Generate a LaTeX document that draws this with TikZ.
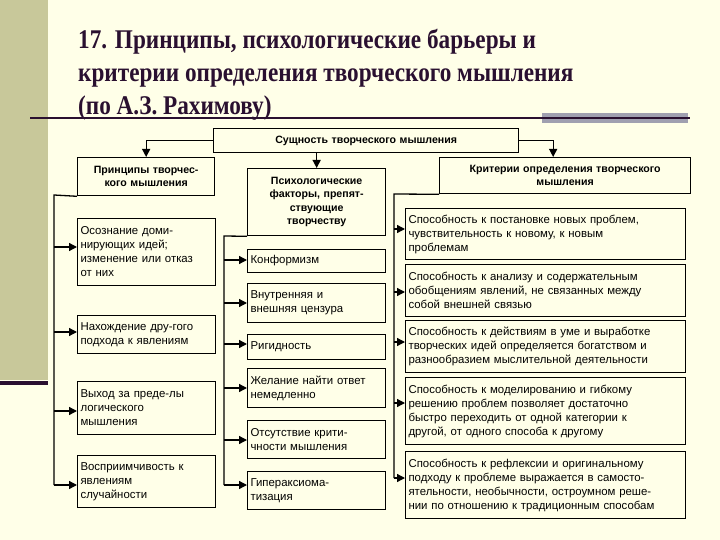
\documentclass[tikz,border=0pt]{standalone}
\usepackage{fontspec}
\setmainfont{Liberation Sans}
\newfontfamily\titlefont{Liberation Serif}
\usetikzlibrary{arrows.meta}
\definecolor{bg}{HTML}{FFFFE8}
\definecolor{olive}{HTML}{C8C89A}
\definecolor{ttl}{HTML}{2A1030}
\definecolor{greybar}{HTML}{A0A0B0}
\tikzset{
 x=1pt,y=-1pt,
 box/.style={draw,line width=1.1pt,anchor=north west,inner sep=3pt,align=left,font=\fontsize{11.4}{14}\selectfont},
 hbox/.style={box,line width=1.3pt,align=center,font=\bfseries\fontsize{10.6}{13.5}\selectfont},
 arr/.style={line width=1.3pt,-{Triangle[length=8pt,width=8pt]}},
 bus/.style={line width=1.3pt}
}
\begin{document}
\begin{tikzpicture}
\fill[bg] (0,0) rectangle (720,540);
\useasboundingbox (0,0) rectangle (720,540);
\fill[olive] (0,0) rectangle (48,380);
\fill[ttl] (0,381) rectangle (48,385);
\fill[greybar] (542,113) rectangle (688,123);
\draw[ttl,line width=1.3pt] (30,118) -- (690,118);
\node[anchor=north west,text=ttl,align=left,font=\titlefont\bfseries\fontsize{27}{33}\selectfont,inner sep=0pt] (title) at (78,29)
 {\scalebox{0.86}[1]{17. Принципы, психологические барьеры и}\\\scalebox{0.86}[1]{критерии определения творческого мышления}\\\scalebox{0.86}[1]{(по А.З. Рахимову)}};
% top
\node[hbox,minimum width=305,minimum height=24,text width=299] (top) at (213,128) {Сущность творческого мышления};
% headers
\node[hbox,minimum width=135,minimum height=38,text width=131] (lh) at (77,157) {Принципы творчес-\\кого мышления};
\node[hbox,minimum width=136,minimum height=67,text width=132] (mh) at (247,168) {Психологические\\факторы, препят-\\ствующие\\творчеству};
\node[hbox,minimum width=249,minimum height=36,text width=245] (rh) at (439,157) {Критерии определения творческого\\мышления};
% left boxes
\node[box,minimum width=136,minimum height=67,text width=132] (l1) at (77,218) {Осознание доми-\\нирующих идей;\\изменение или отказ\\от них};
\node[box,minimum width=136,minimum height=38,text width=132] (l2) at (77,315) {Нахождение дру-гого\\подхода к явлениям};
\node[box,minimum width=136,minimum height=53,text width=132] (l3) at (77,381) {Выход за преде-лы\\логического\\мышления};
\node[box,minimum width=136,minimum height=52,text width=132] (l4) at (77,455) {Восприимчивость к\\явлениям\\случайности};
% middle boxes
\node[box,minimum width=136,minimum height=23,text width=132] (m1) at (247,249) {Конформизм};
\node[box,minimum width=136,minimum height=39,text width=132] (m2) at (247,283) {Внутренняя и\\внешняя цензура};
\node[box,minimum width=136,minimum height=25,text width=132] (m3) at (247,334) {Ригидность};
\node[box,minimum width=136,minimum height=39,text width=132] (m4) at (247,368) {Желание найти ответ\\немедленно};
\node[box,minimum width=136,minimum height=38,text width=132] (m5) at (247,420) {Отсутствие крити-\\чности мышления};
\node[box,minimum width=136,minimum height=38,text width=132] (m6) at (247,471) {Гипераксиома-\\тизация};
% right boxes
\node[box,minimum width=278,minimum height=51,text width=274] (r1) at (405,208) {Способность к постановке новых проблем,\\чувствительность к новому, к новым\\проблемам};
\node[box,minimum width=278,minimum height=52,text width=274] (r2) at (405,264) {Способность к анализу и содержательным\\обобщениям явлений, не связанных между\\собой внешней связью};
\node[box,minimum width=278,minimum height=52,text width=274] (r3) at (405,320) {Способность к действиям в уме и выработке\\творческих идей определяется богатством и\\разнообразием мыслительной деятельности};
\node[box,minimum width=278,minimum height=67,text width=274] (r4) at (405,377) {Способность к моделированию и гибкому\\решению проблем позволяет достаточно\\быстро переходить от одной категории к\\другой, от одного способа к другому};
\node[box,minimum width=278,minimum height=67,text width=274] (r5) at (405,451) {Способность к рефлексии и оригинальному\\подходу к проблеме выражается в самосто-\\ятельности, необычности, остроумном реше-\\нии по отношению к традиционным способам};
% top connectors
\draw[arr] (top.west) -| (lh.north);
\draw[arr] (top.south -| mh.north) -- (mh.north);
\draw[arr] (top.east) -| ([xshift=-12pt]rh.north);
% buses
\coordinate (lb0) at (54,195); \coordinate (lb1) at (54,485);
\draw[bus] (lh.south west) -- (lb0) -- (lb1);
\coordinate (mb0) at (224,236); \coordinate (mb1) at (224,485);
\draw[bus] (mh.south west) -- (mb0) -- (mb1);
\coordinate (rb0) at (394,194); \coordinate (rb1) at (394,478);
\draw[bus] (rh.south west) -- (rb0) -- (rb1);
\foreach \n/\yy in {l1/247,l2/332,l3/411,l4/485} \draw[arr] (54,\yy) -- (\n.west |- 0,\yy);
\foreach \n/\yy in {m1/260,m2/303,m3/344,m4/388,m5/440,m6/485} \draw[arr] (224,\yy) -- (\n.west |- 0,\yy);
\foreach \n/\yy in {r1/229,r2/292,r3/342,r4/403,r5/478} \draw[arr] (394,\yy) -- (\n.west |- 0,\yy);
\end{tikzpicture}
\end{document}
